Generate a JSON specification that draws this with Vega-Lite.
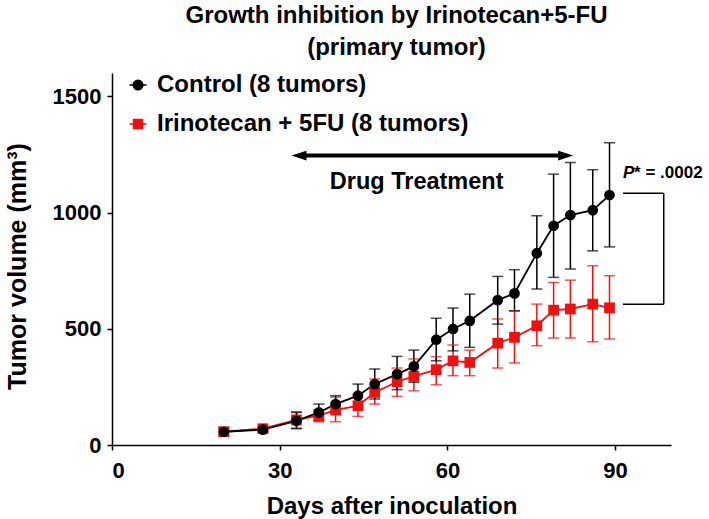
{
  "$schema": "https://vega.github.io/schema/vega-lite/v6.json",
  "autosize": "none",
  "width": 559,
  "height": 372,
  "padding": {"left": 112, "top": 73, "right": 38, "bottom": 74},
  "background": "white",
  "config": {
    "view": {"stroke": null},
    "font": "Liberation Sans",
    "axis": {
      "grid": false, "domainColor": "black", "domainWidth": 1.5, "tickColor": "black", "tickWidth": 1.5, "tickSize": 5,
      "labelFont": "Liberation Sans", "labelFontWeight": "bold", "labelFontSize": 22, "labelColor": "black",
      "titleFont": "Liberation Sans", "titleFontWeight": "bold", "titleFontSize": 24, "titleColor": "black"
    }
  },
  "title": {
    "text": ["Growth inhibition by Irinotecan+5-FU", "(primary tumor)"],
    "font": "Liberation Sans", "fontSize": 24, "fontWeight": "bold", "color": "black",
    "lineHeight": 32, "anchor": "middle", "frame": "group", "offset": 13, "dx": 5
  },
  "datasets": {
    "growth": [
      {"series": "Irinotecan + 5FU (8 tumors)", "day": 20, "mean": 57, "lo": 40, "hi": 75},
      {"series": "Irinotecan + 5FU (8 tumors)", "day": 27, "mean": 70, "lo": 58, "hi": 82},
      {"series": "Irinotecan + 5FU (8 tumors)", "day": 33, "mean": 108, "lo": 73, "hi": 143},
      {"series": "Irinotecan + 5FU (8 tumors)", "day": 37, "mean": 126, "lo": 100, "hi": 152},
      {"series": "Irinotecan + 5FU (8 tumors)", "day": 40, "mean": 150, "lo": 100, "hi": 206},
      {"series": "Irinotecan + 5FU (8 tumors)", "day": 44, "mean": 169, "lo": 123, "hi": 219},
      {"series": "Irinotecan + 5FU (8 tumors)", "day": 47, "mean": 226, "lo": 176, "hi": 284},
      {"series": "Irinotecan + 5FU (8 tumors)", "day": 51, "mean": 272, "lo": 209, "hi": 331},
      {"series": "Irinotecan + 5FU (8 tumors)", "day": 54, "mean": 295, "lo": 233, "hi": 370},
      {"series": "Irinotecan + 5FU (8 tumors)", "day": 58, "mean": 324, "lo": 259, "hi": 380},
      {"series": "Irinotecan + 5FU (8 tumors)", "day": 61, "mean": 362, "lo": 298, "hi": 430},
      {"series": "Irinotecan + 5FU (8 tumors)", "day": 64, "mean": 355, "lo": 298, "hi": 408},
      {"series": "Irinotecan + 5FU (8 tumors)", "day": 69, "mean": 438, "lo": 331, "hi": 542},
      {"series": "Irinotecan + 5FU (8 tumors)", "day": 72, "mean": 463, "lo": 353, "hi": 577},
      {"series": "Irinotecan + 5FU (8 tumors)", "day": 76, "mean": 513, "lo": 427, "hi": 606},
      {"series": "Irinotecan + 5FU (8 tumors)", "day": 79, "mean": 580, "lo": 460, "hi": 699},
      {"series": "Irinotecan + 5FU (8 tumors)", "day": 82, "mean": 585, "lo": 460, "hi": 709},
      {"series": "Irinotecan + 5FU (8 tumors)", "day": 86, "mean": 606, "lo": 444, "hi": 771},
      {"series": "Irinotecan + 5FU (8 tumors)", "day": 89, "mean": 590, "lo": 456, "hi": 728},
      {"series": "Control (8 tumors)", "day": 20, "mean": 57, "lo": 42, "hi": 72},
      {"series": "Control (8 tumors)", "day": 27, "mean": 66, "lo": 56, "hi": 76},
      {"series": "Control (8 tumors)", "day": 33, "mean": 104, "lo": 70, "hi": 140},
      {"series": "Control (8 tumors)", "day": 37, "mean": 140, "lo": 105, "hi": 176},
      {"series": "Control (8 tumors)", "day": 40, "mean": 176, "lo": 140, "hi": 212},
      {"series": "Control (8 tumors)", "day": 44, "mean": 212, "lo": 162, "hi": 262},
      {"series": "Control (8 tumors)", "day": 47, "mean": 262, "lo": 198, "hi": 327},
      {"series": "Control (8 tumors)", "day": 51, "mean": 305, "lo": 238, "hi": 381},
      {"series": "Control (8 tumors)", "day": 54, "mean": 338, "lo": 270, "hi": 408},
      {"series": "Control (8 tumors)", "day": 58, "mean": 453, "lo": 362, "hi": 545},
      {"series": "Control (8 tumors)", "day": 61, "mean": 499, "lo": 405, "hi": 589},
      {"series": "Control (8 tumors)", "day": 64, "mean": 534, "lo": 420, "hi": 649},
      {"series": "Control (8 tumors)", "day": 69, "mean": 623, "lo": 520, "hi": 725},
      {"series": "Control (8 tumors)", "day": 72, "mean": 652, "lo": 577, "hi": 754},
      {"series": "Control (8 tumors)", "day": 76, "mean": 825, "lo": 671, "hi": 986},
      {"series": "Control (8 tumors)", "day": 79, "mean": 943, "lo": 721, "hi": 1165},
      {"series": "Control (8 tumors)", "day": 82, "mean": 989, "lo": 757, "hi": 1215},
      {"series": "Control (8 tumors)", "day": 86, "mean": 1010, "lo": 835, "hi": 1184},
      {"series": "Control (8 tumors)", "day": 89, "mean": 1075, "lo": 852, "hi": 1300}
    ],
    "arrow": [{"xa": 33.45, "xb": 81.16, "y": 1245}],
    "label": [{"x": 54.5, "y": 1131, "text": "Drug Treatment"}],
    "ptext": [{"xp": 91.4, "xs": 93.4, "y": 1172, "p": "P", "rest": "* = .0002"}],
    "bracket": [
      {"x": 91.4, "x2": 98.7, "y": 1083, "y2": 1083},
      {"x": 91.4, "x2": 98.7, "y": 605, "y2": 605},
      {"x": 98.7, "x2": 98.7, "y": 605, "y2": 1083}
    ]
  },
  "layer": [
    {
      "data": {"name": "growth"},
      "mark": {"type": "rule", "strokeWidth": 1.5},
      "encoding": {
        "x": {"field": "day", "type": "quantitative", "scale": {"domain": [0, 100], "nice": false}, "axis": {"values": [0, 30, 60, 90], "labelPadding": 10, "title": "Days after inoculation", "titlePadding": 13}},
        "y": {"field": "lo", "type": "quantitative", "scale": {"domain": [0, 1600], "nice": false}, "axis": {"values": [0, 500, 1000, 1500], "format": "d", "labelPadding": 6, "title": "Tumor volume (mm³)", "titleFontSize": 25, "titlePadding": 22, "titleY": 193}},
        "y2": {"field": "hi"},
        "stroke": {"field": "series", "type": "nominal", "scale": {"domain": ["Irinotecan + 5FU (8 tumors)", "Control (8 tumors)"], "range": ["#ee1111", "black"]}, "legend": null}
      }
    },
    {
      "data": {"name": "growth"},
      "mark": {"type": "tick", "orient": "horizontal", "size": 11, "thickness": 1.5},
      "encoding": {
        "x": {"field": "day", "type": "quantitative"},
        "y": {"field": "hi", "type": "quantitative"},
        "fill": {"field": "series", "type": "nominal", "scale": {"domain": ["Irinotecan + 5FU (8 tumors)", "Control (8 tumors)"], "range": ["#ee1111", "black"]}, "legend": null}
      }
    },
    {
      "data": {"name": "growth"},
      "mark": {"type": "tick", "orient": "horizontal", "size": 11, "thickness": 1.5},
      "encoding": {
        "x": {"field": "day", "type": "quantitative"},
        "y": {"field": "lo", "type": "quantitative"},
        "fill": {"field": "series", "type": "nominal", "legend": null}
      }
    },
    {
      "data": {"name": "growth"},
      "mark": {"type": "line", "strokeWidth": 1.8},
      "encoding": {
        "x": {"field": "day", "type": "quantitative"},
        "y": {"field": "mean", "type": "quantitative"},
        "stroke": {"field": "series", "type": "nominal", "legend": null}
      }
    },
    {
      "data": {"name": "growth"},
      "mark": {"type": "point", "filled": true, "opacity": 1, "size": 115},
      "encoding": {
        "x": {"field": "day", "type": "quantitative"},
        "y": {"field": "mean", "type": "quantitative"},
        "color": {"field": "series", "type": "nominal", "scale": {"domain": ["Control (8 tumors)", "Irinotecan + 5FU (8 tumors)"], "range": ["black", "#ee1111"]},
          "legend": {"title": null, "orient": "none", "legendX": 14, "legendY": 0, "labelFont": "Liberation Sans", "labelFontSize": 24, "labelFontWeight": "bold", "labelColor": "black", "labelLimit": 0, "symbolSize": 100, "rowPadding": 15, "labelOffset": 7, "symbolOpacity": 1,
            "encode": {"symbols": {"update": {
              "shape": {"signal": "datum.value === 'Control (8 tumors)' ? 'M -1.7 0 H 1.7 M 0.95 0 A 0.95 0.95 0 1 1 -0.95 0 A 0.95 0.95 0 1 1 0.95 0 Z' : 'M -1.7 0 H 1.7 M -0.9 -0.9 H 0.9 V 0.9 H -0.9 Z'"},
              "stroke": {"scale": "color", "field": "value"},
              "strokeWidth": {"value": 1.5}
            }}}}},
        "shape": {"field": "series", "type": "nominal", "scale": {"domain": ["Irinotecan + 5FU (8 tumors)", "Control (8 tumors)"], "range": ["square", "circle"]}, "legend": null}
      }
    },
    {
      "data": {"name": "arrow"},
      "mark": {"type": "rule", "strokeWidth": 4, "color": "black"},
      "encoding": {
        "x": {"field": "xa", "type": "quantitative"},
        "x2": {"field": "xb"},
        "y": {"field": "y", "type": "quantitative"}
      }
    },
    {
      "data": {"name": "arrow"},
      "mark": {"type": "point", "filled": true, "opacity": 1, "color": "black", "size": 225, "shape": "M -1 0 L 1 -0.65 L 1 0.65 Z"},
      "encoding": {
        "x": {"field": "xa", "type": "quantitative"},
        "y": {"field": "y", "type": "quantitative"}
      }
    },
    {
      "data": {"name": "arrow"},
      "mark": {"type": "point", "filled": true, "opacity": 1, "color": "black", "size": 225, "shape": "M 1 0 L -1 -0.65 L -1 0.65 Z"},
      "encoding": {
        "x": {"field": "xb", "type": "quantitative"},
        "y": {"field": "y", "type": "quantitative"}
      }
    },
    {
      "data": {"name": "label"},
      "mark": {"type": "text", "font": "Liberation Sans", "fontSize": 23.5, "fontWeight": "bold", "color": "black", "align": "center", "baseline": "middle"},
      "encoding": {
        "x": {"field": "x", "type": "quantitative"},
        "y": {"field": "y", "type": "quantitative"},
        "text": {"field": "text"}
      }
    },
    {
      "data": {"name": "ptext"},
      "mark": {"type": "text", "font": "Liberation Sans", "fontSize": 17, "fontWeight": "bold", "fontStyle": "italic", "color": "black", "align": "left", "baseline": "middle"},
      "encoding": {
        "x": {"field": "xp", "type": "quantitative"},
        "y": {"field": "y", "type": "quantitative"},
        "text": {"field": "p"}
      }
    },
    {
      "data": {"name": "ptext"},
      "mark": {"type": "text", "font": "Liberation Sans", "fontSize": 17, "fontWeight": "bold", "color": "black", "align": "left", "baseline": "middle"},
      "encoding": {
        "x": {"field": "xs", "type": "quantitative"},
        "y": {"field": "y", "type": "quantitative"},
        "text": {"field": "rest"}
      }
    },
    {
      "data": {"name": "bracket"},
      "mark": {"type": "rule", "strokeWidth": 1.5, "color": "black"},
      "encoding": {
        "x": {"field": "x", "type": "quantitative"},
        "x2": {"field": "x2"},
        "y": {"field": "y", "type": "quantitative"},
        "y2": {"field": "y2"}
      }
    }
  ]
}
